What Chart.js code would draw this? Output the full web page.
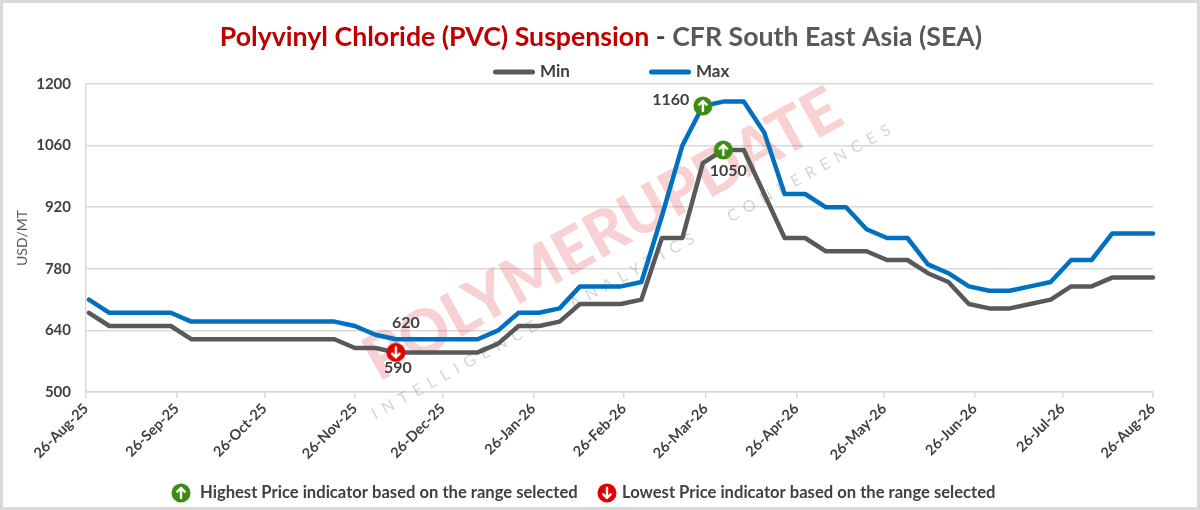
<!DOCTYPE html>
<html>
<head>
<meta charset="utf-8">
<script src="https://cdn.jsdelivr.net/npm/chart.js@4.4.1/dist/chart.umd.min.js"></script>
<style>
  html, body { margin: 0; padding: 0; background: #fff; }
  #wrap { width: 1194px; height: 504px; border: 3px solid #d9d9d9; background: #fff; }
</style>
</head>
<body>
<div id="wrap"><canvas id="chart" width="1194" height="504"></canvas></div>
<script>
// x axis labels (monthly) and first weekly assessment date
const tickLabels = ['26-Aug-25', '26-Sep-25', '26-Oct-25', '26-Nov-25', '26-Dec-25', '26-Jan-26', '26-Feb-26',
  '26-Mar-26', '26-Apr-26', '26-May-26', '26-Jun-26', '26-Jul-26', '26-Aug-26']
const firstWeek = '27-Aug-25'

const seriesNames = ['Min', 'Max']

// weekly prices, USD/MT
const minPrices = [
  680, 650, 650, 650, 650, 620, 620, 620, 620, 620,
  620, 620, 620, 600, 600, 590, 590, 590, 590, 590,
  610, 650, 650, 660, 700, 700, 700, 710, 850, 850,
  1020, 1050, 1050, 950, 850, 850, 820, 820, 820, 800,
  800, 770, 750, 700, 690, 690, 700, 710, 740, 740,
  760, 760, 760]
const maxPrices = [
  710, 680, 680, 680, 680, 660, 660, 660, 660, 660,
  660, 660, 660, 650, 630, 620, 620, 620, 620, 620,
  640, 680, 680, 690, 740, 740, 740, 750, 900, 1060,
  1150, 1160, 1160, 1090, 950, 950, 920, 920, 870, 850,
  850, 790, 770, 740, 730, 730, 740, 750, 800, 800,
  860, 860, 860]

// where the high / low indicators sit (week index on the Max and Min lines)
const highWeek = [30, 31]   // [Max, Min]
const lowWeek = [15, 15]    // [Max, Min]

const titleParts = ['Polyvinyl Chloride (PVC) Suspension', ' - ', 'CFR South East Asia (SEA)']
const noteTexts = ['Highest Price indicator based on the range selected', 'Lowest Price indicator based on the range selected']

const MONTHS = ['Jan', 'Feb', 'Mar', 'Apr', 'May', 'Jun', 'Jul', 'Aug', 'Sep', 'Oct', 'Nov', 'Dec']
function dayNumber(s) {
  const [d, m, y] = s.split('-')
  return Date.UTC(2000 + Number(y), MONTHS.indexOf(m), Number(d)) / 86400000
}
const axisStart = dayNumber(tickLabels[0])
const tickDays = tickLabels.map(s => dayNumber(s) - axisStart)
const firstDay = dayNumber(firstWeek) - axisStart
const weekDays = minPrices.map((v, i) => firstDay + 7 * i)

const FONT = 'Lato, "Open Sans", sans-serif'
const TEXT = '#404040'
const colors = ['#595959', '#0070C0']

function makeIcon(fill, up) {
  const cv = document.createElement('canvas')
  cv.width = 20
  cv.height = 20
  const g = cv.getContext('2d')
  g.fillStyle = fill
  g.beginPath()
  g.arc(10, 10, 9.5, 0, Math.PI * 2)
  g.fill()
  g.strokeStyle = '#fff'
  g.lineWidth = 2.4
  g.lineCap = 'round'
  g.lineJoin = 'round'
  const s = up ? 1 : -1
  g.beginPath()
  g.moveTo(10, 10 + 5 * s)
  g.lineTo(10, 10 - 5 * s)
  g.moveTo(6.3, 10 - 1.3 * s)
  g.lineTo(10, 10 - 5 * s)
  g.lineTo(13.7, 10 - 1.3 * s)
  g.stroke()
  return cv
}
const upIcon = makeIcon('#3a8c12', true)
const downIcon = makeIcon('#e00000', false)

const pts = arr => arr.map((v, i) => ({ x: weekDays[i], y: v }))

const indicatorPoints = [
  { x: weekDays[highWeek[0]], y: maxPrices[highWeek[0]] },
  { x: weekDays[highWeek[1]], y: minPrices[highWeek[1]] },
  { x: weekDays[lowWeek[1]], y: minPrices[lowWeek[1]] }
]

const decorPlugin = {
  id: 'decor',
  beforeDatasetsDraw(chart) {
    // watermark
    const c = chart.ctx
    c.save()
    c.translate(600, 232)
    c.rotate(-29 * Math.PI / 180)
    c.textAlign = 'center'
    c.textBaseline = 'middle'
    c.font = `900 60px ${FONT}`
    let w = c.measureText('POLYMERUPDATE').width
    c.font = `900 ${60 * 535 / w}px ${FONT}`
    c.fillStyle = 'rgba(225, 50, 50, 0.22)'
    c.fillText('POLYMERUPDATE', 0, 0)
    c.font = `16px ${FONT}`
    c.fillStyle = 'rgba(120, 120, 120, 0.32)'
    c.letterSpacing = '7px'
    c.fillText('INTELLIGENCE   ANALYTICS   CONFERENCES', 10, 46)
    c.restore()
  },
  afterDraw(chart) {
    const c = chart.ctx
    c.save()
    c.textBaseline = 'middle'
    // title in two colours
    const full = titleParts.join('')
    c.font = `bold 26px ${FONT}`
    const size = 26 * 763 / c.measureText(full).width
    c.font = `bold ${size}px ${FONT}`
    let x = 598 - c.measureText(full).width / 2
    const titleColors = ['#C00000', TEXT, '#595959']
    titleParts.forEach((t, i) => {
      c.fillStyle = titleColors[i]
      c.fillText(t, x, 34)
      x += c.measureText(t).width
    })
    // series legend
    const legendX = [490, 646]
    c.font = `bold 17px ${FONT}`
    chart.data.datasets.slice(0, 2).forEach((ds, i) => {
      c.fillStyle = ds.borderColor
      c.beginPath()
      c.roundRect(legendX[i], 66.5, 42, 5, 2.5)
      c.fill()
      c.fillStyle = TEXT
      c.fillText(ds.label, legendX[i] + 47, 69)
    })
    // indicator notes at the bottom
    c.font = `bold 15px ${FONT}`
    const ns = 15 * 378 / c.measureText(noteTexts[0]).width
    c.font = `bold ${ns}px ${FONT}`
    c.drawImage(upIcon, 168, 480)
    c.fillStyle = TEXT
    c.fillText(noteTexts[0], 197, 490)
    c.drawImage(downIcon, 594, 480)
    c.fillText(noteTexts[1], 619, 490)
    c.restore()
  },
  afterDatasetsDraw(chart) {
    // value labels next to the indicators
    const c = chart.ctx
    const minMeta = chart.getDatasetMeta(0).data
    const maxMeta = chart.getDatasetMeta(1).data
    const labels = [
      [maxMeta[highWeek[0]], Math.max(...maxPrices), -32, -6],
      [minMeta[highWeek[1]], Math.max(...minPrices), 5, 21],
      [maxMeta[lowWeek[0]], Math.min(...maxPrices), 10, -16],
      [minMeta[lowWeek[1]], Math.min(...minPrices), 2, 15]
    ]
    c.save()
    c.font = `bold 16px ${FONT}`
    c.fillStyle = TEXT
    c.textAlign = 'center'
    c.textBaseline = 'middle'
    labels.forEach(([el, v, dx, dy]) => c.fillText(String(v), el.x + dx, el.y + dy))
    c.restore()
  }
}

new Chart(document.getElementById('chart'), {
  type: 'line',
  data: {
    datasets: [
      {
        label: seriesNames[0], data: pts(minPrices), borderColor: colors[0], backgroundColor: colors[0],
        borderWidth: 4.5, pointRadius: 0, tension: 0, borderJoinStyle: 'round', borderCapStyle: 'round', clip: false, order: 2
      },
      {
        label: seriesNames[1], data: pts(maxPrices), borderColor: colors[1], backgroundColor: colors[1],
        borderWidth: 4.5, pointRadius: 0, tension: 0, borderJoinStyle: 'round', borderCapStyle: 'round', clip: false, order: 1
      },
      {
        label: 'indicators', data: indicatorPoints, showLine: false, pointRadius: 10,
        pointStyle: [upIcon, upIcon, downIcon], clip: false, order: 0
      }
    ]
  },
  options: {
    responsive: false,
    animation: false,
    layout: { padding: { top: 81, right: 44, bottom: 0, left: 0 } },
    plugins: { legend: { display: false }, title: { display: false }, tooltip: { enabled: false } },
    scales: {
      x: {
        type: 'linear',
        min: tickDays[0],
        max: tickDays[tickDays.length - 1],
        afterBuildTicks: s => { s.ticks = tickDays.map(v => ({ value: v })) },
        afterFit: s => { s.height = 115; s.paddingLeft = 0; s.paddingRight = 0 },
        ticks: {
          callback: (v, i) => tickLabels[i],
          autoSkip: false, maxRotation: 45, minRotation: 45, padding: 2,
          color: TEXT, font: { family: FONT, size: 14.5, weight: 'bold' }
        },
        grid: { drawOnChartArea: false, drawTicks: true, tickLength: 6, color: '#d9d9d9', lineWidth: 1.5 },
        border: { color: '#d9d9d9', width: 1.5 }
      },
      y: {
        min: 500,
        max: 1200,
        afterFit: s => { s.width = 83 },
        ticks: {
          stepSize: 140, padding: 15, callback: v => String(v),
          color: TEXT, font: { family: FONT, size: 15, weight: 'bold' }
        },
        grid: { color: '#d9d9d9', lineWidth: 1.5, drawTicks: false },
        border: { color: '#d9d9d9', width: 1.5 },
        title: { display: true, text: 'USD/MT', color: '#595959', font: { family: FONT, size: 14 }, padding: { top: 11, bottom: 0 } }
      }
    }
  },
  plugins: [decorPlugin]
})
</script>
</body>
</html>
